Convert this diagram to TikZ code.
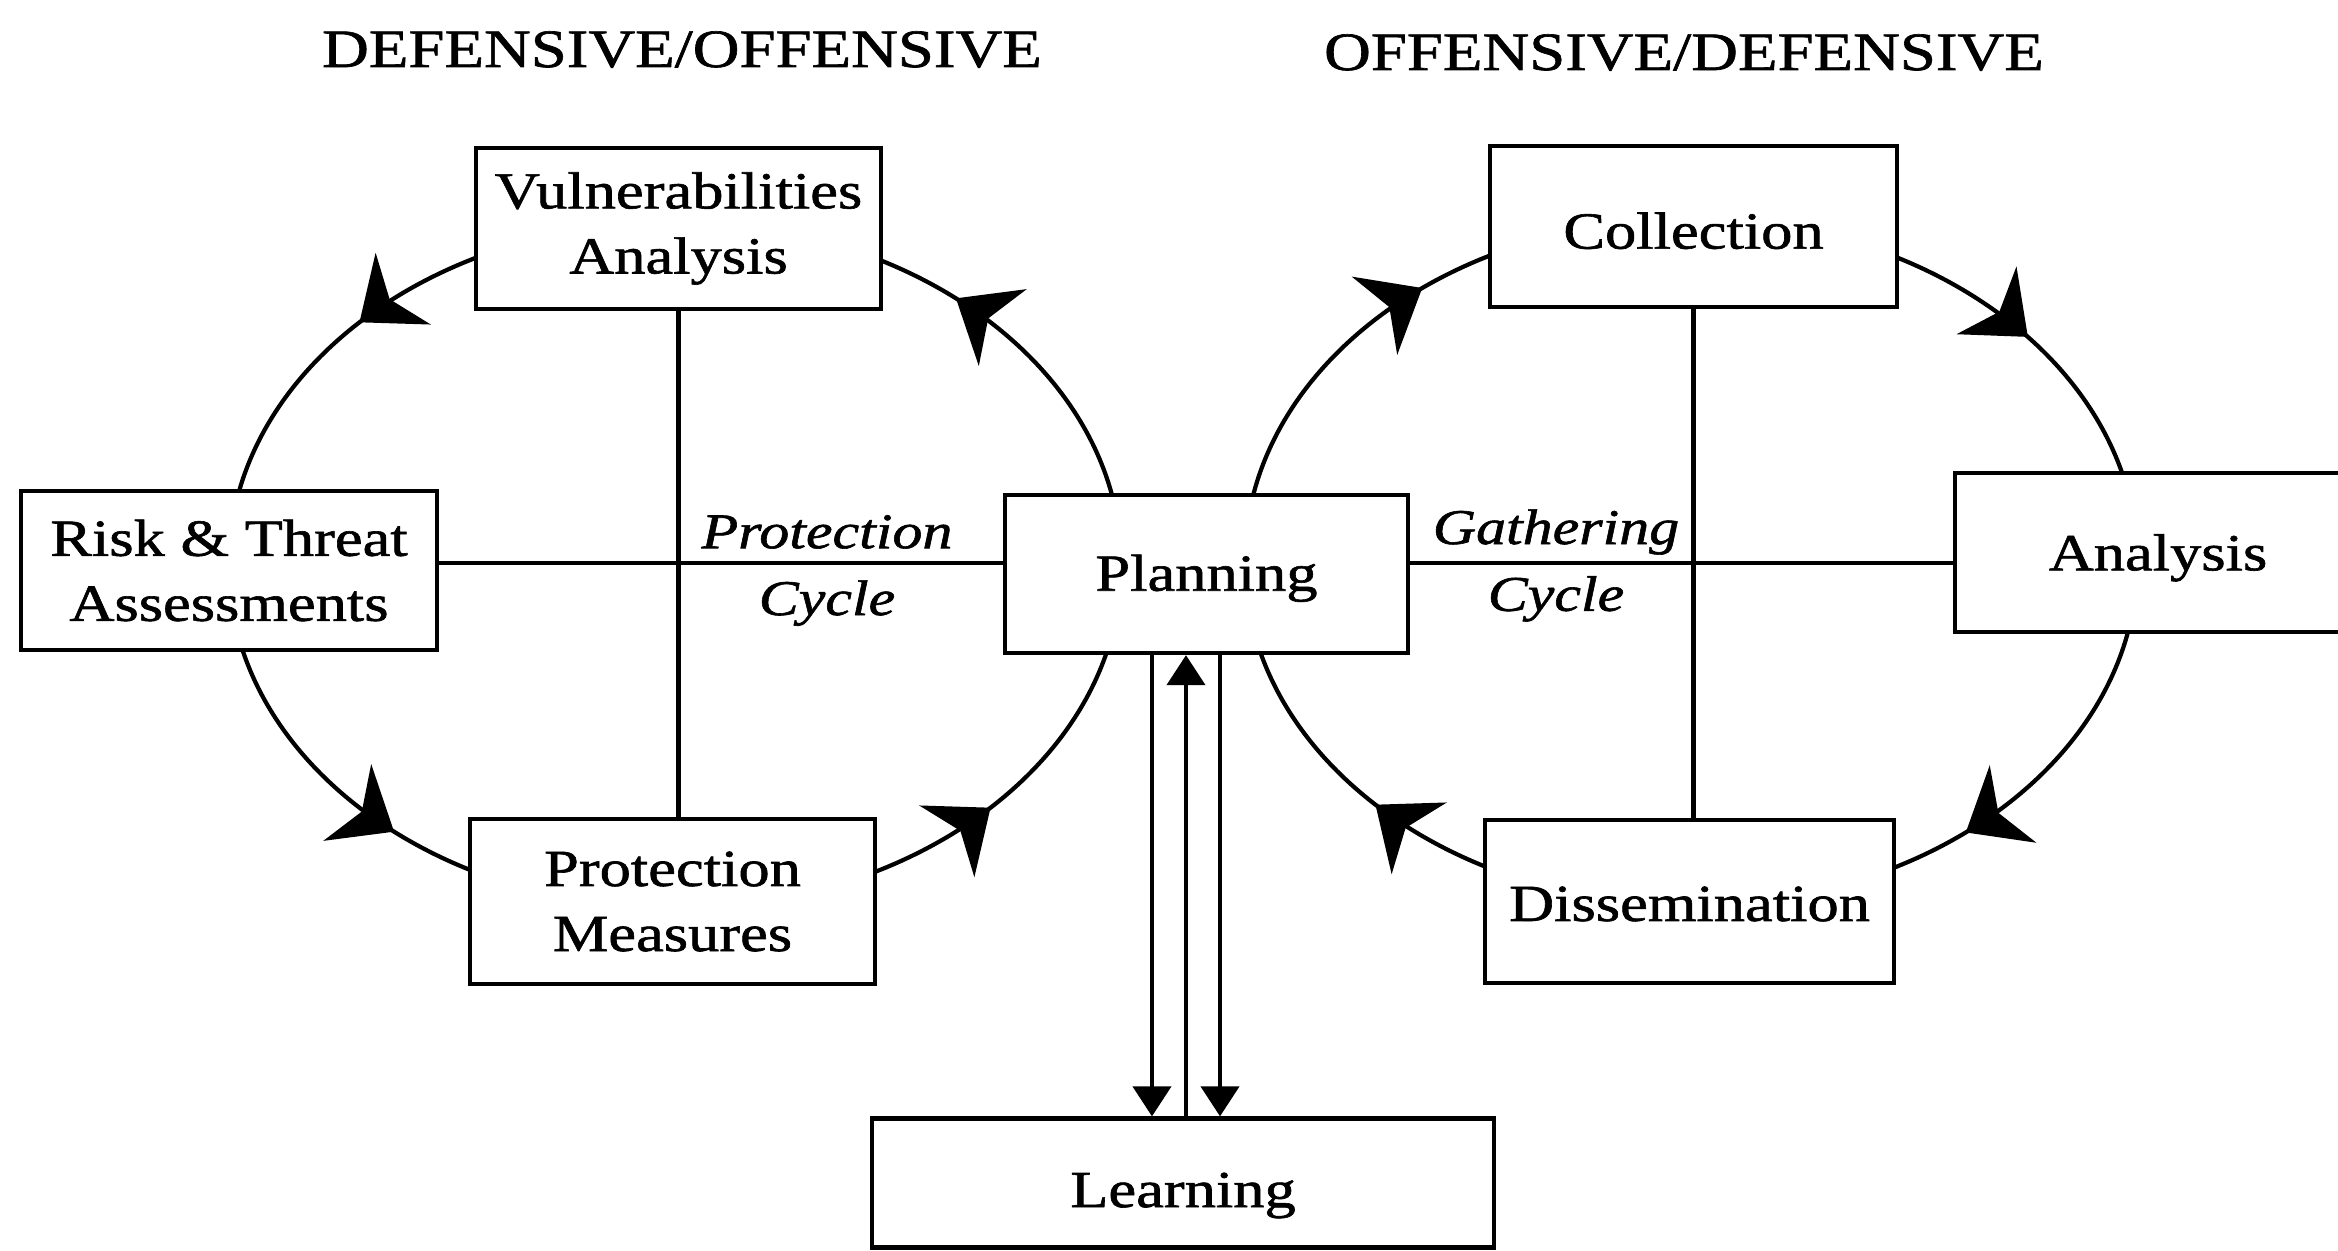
\documentclass[tikz,border=0pt]{standalone}
\usepackage{fontspec}
\setmainfont{Liberation Serif}[FakeStretch=1.2, FakeBold=1.2]
\usetikzlibrary{arrows.meta,decorations.markings}
\pgfdeclarelayer{background}
\pgfsetlayers{background,main}
\newcommand\diagfont{\fontsize{14.8}{18.5}\selectfont}
\newcommand\cyclefont{\fontsize{14.2}{19}\selectfont\itshape}
\newcommand\headfont{\fontsize{15.35}{18.5}\selectfont}

\begin{document}
\begin{tikzpicture}[x=0.01cm, y=0.01cm,
  boxstrut/.initial=12.7pt,
  box/.style={draw, line width=1.2pt, fill=white, align=center, inner sep=0pt,
    font=\diagfont,
    execute at begin node={\rule{0pt}{\pgfkeysvalueof{/tikz/boxstrut}}}},
  lbl/.style={align=center, inner sep=0pt, font=\cyclefont},
  heading/.style={inner sep=0pt, anchor=base, font=\headfont},
  conn/.style={line width=1.2pt},
  cyc/.style={line width=1.2pt},
  cyctip/.tip={Stealth[length=0.55cm, width=0.9cm, inset=0.17cm]},
  feed/.tip={Triangle[length=0.3cm, width=0.38cm]},
  % arrowheads along the protection cycle (drawn counter-clockwise)
  leftarrows/.style={postaction={decorate, decoration={markings,
      mark=at position 0.1316 with {\arrow{cyctip}},
      mark=at position 0.3853 with {\arrow{cyctip}},
      mark=at position 0.6316 with {\arrow{cyctip}},
      mark=at position 0.8853 with {\arrow{cyctip}}}}},
  % arrowheads along the gathering cycle (runs clockwise)
  rightarrows/.style={postaction={decorate, decoration={markings,
      mark=at position 0.1036 with {\arrowreversed{cyctip}},
      mark=at position 0.3627 with {\arrowreversed{cyctip}},
      mark=at position 0.6147 with {\arrowreversed{cyctip}},
      mark=at position 0.8655 with {\arrowreversed{cyctip}}}}}
]
\useasboundingbox (0,0) rectangle (2338,1250);

% headings
\node[heading] (hleft)  at (682,1183)  {DEFENSIVE/OFFENSIVE};
\node[heading] (hright) at (1684,1180) {OFFENSIVE/DEFENSIVE};

% protection cycle boxes
\node[box, minimum width=4.05cm, minimum height=1.61cm, boxstrut=13.3pt] (vuln) at (678.5,1021.5) {Vulnerabilities\\Analysis};
\node[box, minimum width=4.16cm, minimum height=1.59cm, boxstrut=11.8pt] (risk) at (229,679.5) {Risk \& Threat\\Assessments};
\node[box, minimum width=4.05cm, minimum height=1.65cm] (prot) at (672.5,348.5) {Protection\\Measures};

% shared hub
\node[box, minimum width=4.03cm, minimum height=1.58cm] (plan) at (1206.5,676) {Planning};

% gathering cycle boxes
\node[box, minimum width=4.07cm, minimum height=1.61cm] (coll) at (1693.5,1023.5) {Collection};
\begin{scope}
  \clip (0,0) rectangle (2338,1250);
  \node[box, minimum width=4.06cm, minimum height=1.59cm, boxstrut=13.3pt] (ana) at (2158,697.5) {Analysis};
\end{scope}
\node[box, minimum width=4.09cm, minimum height=1.63cm, boxstrut=11.2pt] (diss) at (1689.5,348.5) {Dissemination};

% learning
\node[box, minimum width=6.22cm, minimum height=1.29cm, boxstrut=16.9pt] (learn) at (1183,67) {Learning};

% cycle names
\node[lbl] (pcyc) at (827,679.5) {Protection\\Cycle};
\node[lbl] (gcyc) at (1556,684.5) {Gathering\\Cycle};

% cross lines through each cycle
\coordinate (hl) at (0,687);
\draw[conn] (risk.east |- hl) -- (plan.west |- hl);
\draw[conn] (plan.east |- hl) -- (ana.west |- hl);
\draw[conn] (vuln.south) -- (vuln.south |- prot.north);
\draw[conn] (coll.south) -- (coll.south |- diss.north);

% planning <-> learning
\draw[conn, -{feed}] ([xshift=-0.545cm]plan.south) -- ([xshift=-0.545cm]plan.south |- learn.north);
\draw[conn, -{feed}] ([xshift=-0.205cm]plan.south |- learn.north) -- ([xshift=-0.205cm]plan.south);
\draw[conn, -{feed}] ([xshift=0.135cm]plan.south) -- ([xshift=0.135cm]plan.south |- learn.north);

% the two cycles, behind the boxes
\coordinate (lc) at (675,685);
\coordinate (rc) at (1691,688);
\begin{pgfonlayer}{background}
  \draw[cyc, leftarrows] (lc) ellipse [x radius=4.46cm, y radius=3.43cm];
  \draw[cyc, rightarrows] (rc) ellipse [x radius=4.46cm, y radius=3.43cm];
\end{pgfonlayer}
\end{tikzpicture}
\end{document}
